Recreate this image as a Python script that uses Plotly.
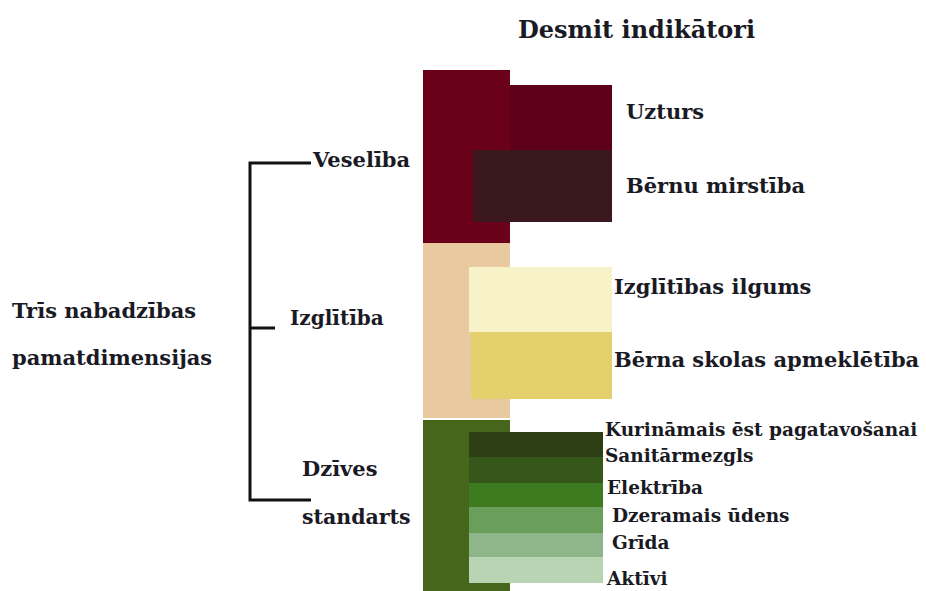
import plotly.graph_objects as go

# Dimensions (big blocks)
dim_names = ["Veselība", "Izglītība", "Dzīves standarts"]
dim_x0 = [423, 423, 423]
dim_x1 = [510, 510, 510]
dim_y0 = [70, 243, 420]
dim_y1 = [243, 418, 591]
dim_colors = ["#6A0019", "#E8C9A0", "#45661B"]

# Indicators
ind_names = ["Uzturs", "Bērnu mirstība", "Izglītības ilgums", "Bērna skolas apmeklētība",
             "Kurināmais ēst pagatavošanai", "Sanitārmezgls", "Elektrība",
             "Dzeramais ūdens", "Grīda", "Aktīvi"]
ind_x0 = [510, 473, 469, 471, 469, 469, 469, 469, 469, 469]
ind_x1 = [612, 612, 612, 612, 603, 603, 603, 603, 603, 603]
ind_y0 = [85, 150, 267, 332, 432, 457, 483, 507, 533, 557]
ind_y1 = [150, 222, 332, 399, 457, 483, 507, 533, 557, 583]
ind_colors = ["#5E001A", "#3A181D", "#F8F2C9", "#E5D06E", "#2E3F15", "#36571A",
              "#3E7A1F", "#6A9E5B", "#8FB58A", "#B8D4B2"]

# Label placements
ind_lx = [624, 624, 612, 612, 603, 603, 605, 610, 610, 604]
ind_ly = [111, 185, 286, 359, 429, 455, 487, 515, 542, 578]
ind_fs = [21, 21, 21, 21, 18.5, 18.5, 18.5, 18.5, 18.5, 18.5]

fig = go.Figure()

def add_blocks(x0, x1, y0, y1, colors, names):
    for a, b, c, d, col, n in zip(x0, x1, y0, y1, colors, names):
        fig.add_trace(go.Bar(
            orientation="h", y=[(c + d) / 2], x=[b - a], base=[a], width=[d - c],
            marker=dict(color=col, line=dict(width=0)), name=n,
            showlegend=False, hoverinfo="name"))

add_blocks(dim_x0, dim_x1, dim_y0, dim_y1, dim_colors, dim_names)
add_blocks(ind_x0, ind_x1, ind_y0, ind_y1, ind_colors, ind_names)

# Bracket
fig.add_trace(go.Scatter(
    x=[311, 250, 250, 311, None, 250, 275],
    y=[163, 163, 500, 500, None, 328, 328],
    mode="lines", line=dict(color="#111111", width=3),
    showlegend=False, hoverinfo="skip"))

FONT = "DejaVu Serif"
ann = []
def label(x, y, text, size, xanchor="left"):
    ann.append(dict(x=x, y=y, xref="x", yref="y", text="<b>%s</b>" % text,
                    showarrow=False, xanchor=xanchor, yanchor="middle",
                    font=dict(family=FONT, size=size, color="#1a1a24")))

for n, x, y, s in zip(ind_names, ind_lx, ind_ly, ind_fs):
    label(x, y, n, s)

label(636, 29, "Desmit indikātori", 24, "center")
label(310, 159, "Veselība", 21)
label(288, 318, "Izglītība", 20)
label(300, 468, "Dzīves", 21)
label(300, 517, "standarts", 20.5)
label(10, 310, "Trīs nabadzības", 21)
label(10, 357, "pamatdimensijas", 21)

fig.update_layout(
    width=926, height=591, margin=dict(l=0, r=0, t=0, b=0),
    paper_bgcolor="white", plot_bgcolor="white",
    barmode="overlay", bargap=0,
    xaxis=dict(range=[0, 926], visible=False, fixedrange=True),
    yaxis=dict(range=[591, 0], visible=False, fixedrange=True),
    annotations=ann,
)

fig.write_html("out.html", config={"displayModeBar": False},
               post_script="document.body.style.margin='0';document.body.style.overflow='hidden';")
